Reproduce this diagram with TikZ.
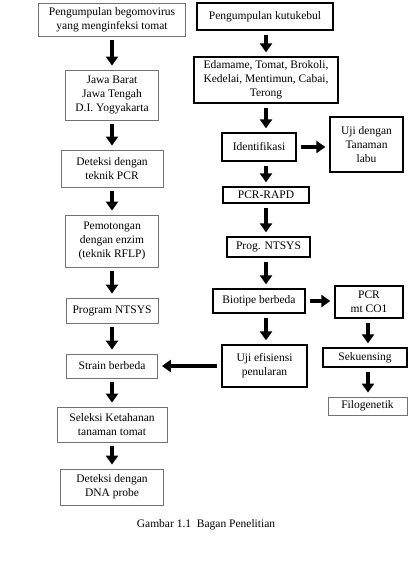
\documentclass[tikz,border=0pt]{standalone}
\usepackage{fontspec}
\setmainfont{Liberation Serif}
\usetikzlibrary{arrows.meta}

\begin{document}
\begin{tikzpicture}[x=1pt,y=-1pt,
    kiri/.style={draw=black!55,line width=0.8pt,align=center,inner sep=1pt,font=\fontsize{11.5}{13.8}\selectfont},
    kanan/.style={kiri,draw=black,line width=1.3pt},
    panah/.style={line width=3.6pt,-{Triangle[width=12pt,length=9pt]},shorten <=4pt,shorten >=4pt}]

    \useasboundingbox (0,0) rectangle (408,584);
    \coordinate (kol) at (266,0);
    \coordinate (kol2) at (368,0);

    % kolom kiri: begomovirus
    \node[kiri,minimum width=147pt,minimum height=33pt] (a) at (112,19.5) {Pengumpulan begomovirus\\yang menginfeksi tomat};
    \node[kiri,minimum width=93pt,minimum height=50pt] (b) at (112,95) {Jawa Barat\\Jawa Tengah\\D.I. Yogyakarta};
    \node[kiri,minimum width=102pt,minimum height=37pt] (c) at (112,168.5) {Deteksi dengan\\teknik PCR};
    \node[kiri,minimum width=93pt,minimum height=52pt] (d) at (112,241) {Pemotongan\\dengan enzim\\(teknik RFLP)};
    \node[kiri,minimum width=92pt,minimum height=25pt] (e) at (112,310.5) {Program NTSYS};
    \node[kiri,minimum width=91pt,minimum height=24pt] (f) at (112,366) {Strain berbeda};
    \node[kiri,minimum width=110pt,minimum height=35pt] (g) at (112,424.5) {Seleksi Ketahanan\\tanaman tomat};
    \node[kiri,minimum width=103pt,minimum height=36pt] (h) at (112,487) {Deteksi dengan\\DNA probe};

    % kolom kanan: kutukebul
    \node[kanan,minimum width=136pt,minimum height=27pt] (p) at (265,16.5) {Pengumpulan kutukebul};
    \node[kanan,minimum width=144pt,minimum height=46pt] (q) at (266,80) {Edamame, Tomat, Brokoli,\\Kedelai, Mentimun, Cabai,\\Terong};
    \node[kanan,minimum width=74pt,minimum height=28pt] (r) at (259,147) {Identifikasi};
    \node[kanan,minimum width=73pt,minimum height=55pt] (s) at (366.5,144.5) {Uji dengan\\Tanaman\\labu};
    \node[kanan,minimum width=86pt,minimum height=16pt] (t) at (266,195) {PCR-RAPD};
    \node[kanan,minimum width=83pt,minimum height=20pt] (u) at (268.5,247) {Prog. NTSYS};
    \node[kanan,minimum width=92pt,minimum height=24pt] (v) at (259,301) {Biotipe berbeda};
    \node[kanan,minimum width=68pt,minimum height=32pt] (w) at (369,302) {PCR\\mt CO1};
    \node[kanan,minimum width=85pt,minimum height=42pt] (x) at (264.5,366) {Uji efisiensi\\penularan};
    \node[kanan,minimum width=84pt,minimum height=19pt] (y) at (365,357.5) {Sekuensing};
    \node[kiri,minimum width=79pt,minimum height=18pt] (z) at (367.5,406) {Filogenetik};

    \node[font=\fontsize{11.5}{13.8}\selectfont] (cap) at (206,525) {Gambar 1.1\ \ Bagan Penelitian};

    \draw[panah] (a) -- (b);
    \draw[panah] (b) -- (c);
    \draw[panah] (c) -- (d);
    \draw[panah] (d) -- (e);
    \draw[panah] (e) -- (f);
    \draw[panah] (f) -- (g);
    \draw[panah] (g) -- (h);

    \draw[panah] (p.south -| kol) -- (q.north -| kol);
    \draw[panah] (q.south -| kol) -- (r.north -| kol);
    \draw[panah] (r.south -| kol) -- (t.north -| kol);
    \draw[panah] (t.south -| kol) -- (u.north -| kol);
    \draw[panah] (u.south -| kol) -- (v.north -| kol);
    \draw[panah] (v.south -| kol) -- (x.north -| kol);
    \draw[panah] (r.east) -- (r.east -| s.west);
    \draw[panah] (v.east) -- (v.east -| w.west);
    \draw[panah] (x.west) -- (x.west -| f.east);
    \draw[panah] (w.south -| kol2) -- (y.north -| kol2);
    \draw[panah] (y.south -| kol2) -- (z.north -| kol2);

\end{tikzpicture}
\end{document}
